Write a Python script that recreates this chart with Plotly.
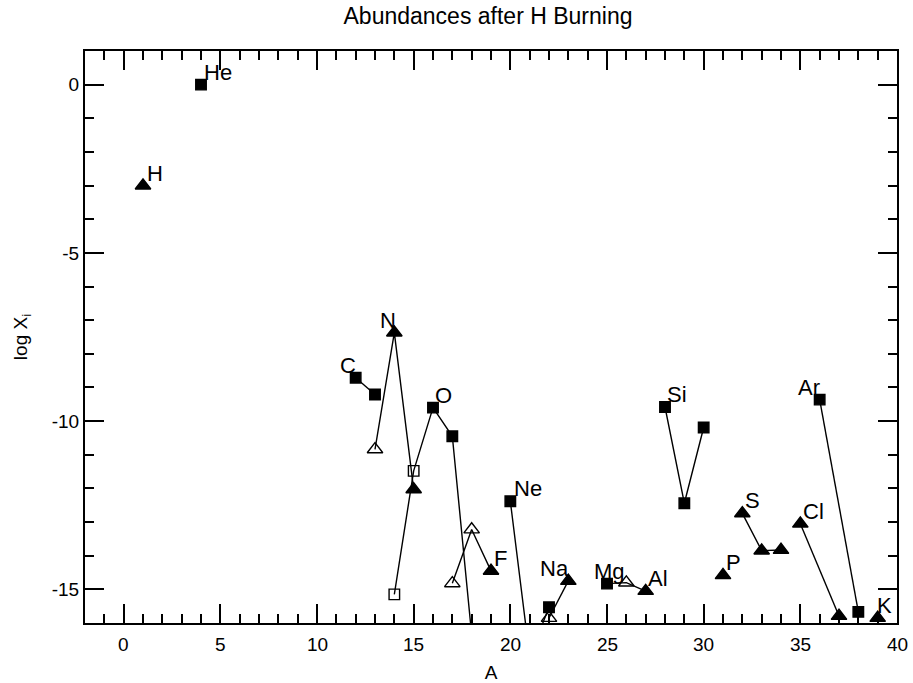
import plotly.graph_objects as go

# ---- data: mass number A and log abundance for each element's isotopes ----
H_A = [1];              H_logX = [-3.00];                              H_sym = ["t"]
He_A = [4];             He_logX = [0.00];                              He_sym = ["s"]
C_A = [12, 13];         C_logX = [-8.71, -9.21];                       C_sym = ["s", "s"]
N_A = [13, 14, 15];     N_logX = [-10.84, -7.37, -12.03];              N_sym = ["to", "t", "t"]
O_A = [14, 15, 16, 17, 18]
O_logX = [-15.15, -11.48, -9.60, -10.45, -16.35]
O_sym = ["so", "so", "s", "s", "s"]
F_A = [17, 18, 19];     F_logX = [-14.82, -13.22, -14.45];             F_sym = ["to", "to", "t"]
Ne_A = [20, 21, 22];    Ne_logX = [-12.38, -17.00, -15.53];            Ne_sym = ["s", "s", "s"]
Na_A = [22, 23];        Na_logX = [-15.85, -14.75];                    Na_sym = ["to", "t"]
MgAl_A = [25, 26, 27];  MgAl_logX = [-14.83, -14.80, -15.05];          MgAl_sym = ["s", "to", "t"]
Si_A = [28, 29, 30];    Si_logX = [-9.58, -12.44, -10.19];             Si_sym = ["s", "s", "s"]
P_A = [31];             P_logX = [-14.58];                             P_sym = ["t"]
S_A = [32, 33, 34];     S_logX = [-12.74, -13.85, -13.83];             S_sym = ["t", "t", "t"]
Cl_A = [35, 37];        Cl_logX = [-13.05, -15.79];                    Cl_sym = ["t", "t"]
Ar_A = [36, 38];        Ar_logX = [-9.36, -15.67];                     Ar_sym = ["s", "s"]
K_A = [39];             K_logX = [-15.85];                             K_sym = ["t"]

# element labels: text, A position of label, anchor log X
label_text = ["H", "He", "C", "N", "O", "F", "Ne", "Na", "Mg", "Al",
              "Si", "P", "S", "Cl", "Ar", "K"]
label_A = [1.1, 4.03, 11.1, 13.17, 16.02, 19.04, 20.07, 21.43, 24.2, 27.03,
           27.99, 31.03, 32.02, 35.03, 34.77, 38.87]
label_logX = [-3.00, 0.00, -8.71, -7.37, -9.60, -14.45, -12.38, -14.75, -14.83, -15.05,
              -9.58, -14.58, -12.74, -13.05, -9.36, -15.85]

x_tickvals = [0, 5, 10, 15, 20, 25, 30, 35, 40]
x_ticktext = ["0", "5", "10", "15", "20", "25", "30", "35", "40"]
y_tickvals = [0, -5, -10, -15]
y_ticktext = ["0", "-5", "-10", "-15"]

chains = [
    (H_A, H_logX, H_sym), (He_A, He_logX, He_sym), (C_A, C_logX, C_sym),
    (N_A, N_logX, N_sym), (O_A, O_logX, O_sym), (F_A, F_logX, F_sym),
    (Ne_A, Ne_logX, Ne_sym), (Na_A, Na_logX, Na_sym), (MgAl_A, MgAl_logX, MgAl_sym),
    (Si_A, Si_logX, Si_sym), (P_A, P_logX, P_sym), (S_A, S_logX, S_sym),
    (Cl_A, Cl_logX, Cl_sym), (Ar_A, Ar_logX, Ar_sym), (K_A, K_logX, K_sym),
]

symmap = {"s": "square", "so": "square-open", "t": "triangle-up", "to": "triangle-up-open"}
sizemap = {"s": 10.5, "so": 10.5, "t": 13.5, "to": 13.5}

FONT = "Liberation Sans, Arial, Helvetica, sans-serif"

fig = go.Figure()
for A, lx, sy in chains:
    fig.add_trace(go.Scatter(
        x=A, y=lx, mode="lines+markers",
        line=dict(color="black", width=1.4),
        marker=dict(symbol=[symmap[s] for s in sy], size=[sizemap[s] for s in sy],
                    color="#000000", opacity=1,
                    line=dict(color="#000000", width=1.4)),
        showlegend=False, cliponaxis=True, hoverinfo="skip",
    ))

for t, a, v in zip(label_text, label_A, label_logX):
    fig.add_annotation(x=a, y=v, text=t, showarrow=False, xref="x", yref="y",
                       xanchor="left", yanchor="middle", yshift=12.5,
                       font=dict(family=FONT, size=22, color="black"))

# x tick labels placed on the x scale, just below the axis
for v, t in zip(x_tickvals, x_ticktext):
    fig.add_annotation(x=v, y=0, text=t, showarrow=False, xref="x", yref="paper",
                       xanchor="center", yanchor="middle", yshift=-21,
                       font=dict(family=FONT, size=19, color="black"))

axis_common = dict(
    ticks="inside", tickwidth=1.5, tickcolor="black",
    showline=True, linewidth=2, linecolor="black", mirror="ticks",
    showgrid=False, zeroline=False, automargin=False,
    tickfont=dict(family=FONT, size=19, color="black"),
)

fig.update_layout(
    width=913, height=683,
    margin=dict(l=85, r=16, t=51, b=60),
    paper_bgcolor="white", plot_bgcolor="white",
    title=dict(text="Abundances after H Burning", x=0.5345, xref="container",
               xanchor="center", y=1 - 16 / 683, yref="container", yanchor="middle",
               font=dict(family=FONT, size=23, color="black")),
    xaxis=dict(range=[-2, 40], tickmode="array", tickvals=x_tickvals, ticklen=19,
               showticklabels=False,
               minor=dict(dtick=1, tick0=0, ticklen=9, ticks="inside",
                          tickwidth=1.5, tickcolor="black", showgrid=False),
               title=dict(text="A", font=dict(family=FONT, size=19, color="black"), standoff=43),
               **axis_common),
    yaxis=dict(range=[-16, 1], tickmode="array", tickvals=y_tickvals, ticktext=y_ticktext,
               ticklen=19,
               minor=dict(dtick=1, tick0=0, ticklen=9, ticks="inside",
                          tickwidth=1.5, tickcolor="black", showgrid=False),
               title=dict(text="log X<sub>i</sub>", font=dict(family=FONT, size=19, color="black"),
                          standoff=19),
               **axis_common),
)

fig.write_html("out.html")
